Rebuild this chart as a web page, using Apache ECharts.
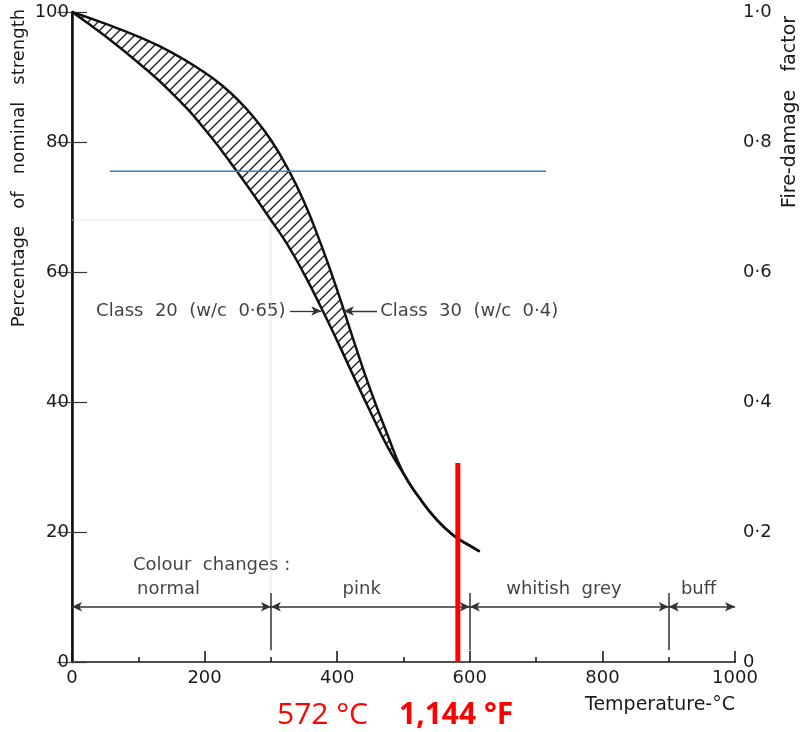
<!DOCTYPE html>
<html>
<head>
<meta charset="utf-8">
<script src="https://cdn.jsdelivr.net/npm/echarts@6/dist/echarts.min.js"></script>
<style>
  html, body { margin: 0; padding: 0; background: #fff; }
  #main { width: 800px; height: 732px; }
</style>
</head>
<body>
<div id="main"></div>
<script>
// Class 30 (w/c 0.4) - upper curve
var temp30 = [0, 50, 100, 150, 200, 225, 250, 275, 300, 325, 350, 375, 400, 425, 450, 475, 500, 525, 550, 575, 600, 615];
var str30 = [100, 98.2, 96.2, 93.8, 90.7, 88.8, 86.5, 83.7, 80.3, 76.0, 70.8, 64.4, 57.2, 49.4, 41.9, 35.2, 29.0, 25.1, 21.9, 19.5, 17.9, 17.0];
// Class 20 (w/c 0.65) - lower curve
var temp20 = [0, 50, 100, 150, 200, 250, 300, 325, 350, 375, 400, 425, 450, 475, 500, 525, 550, 575, 600, 615];
var str20 = [100, 96.3, 92.2, 87.6, 82.0, 75.3, 68.0, 64.2, 59.7, 54.7, 49.4, 43.9, 38.5, 33.3, 29.0, 25.1, 21.9, 19.5, 17.9, 17.0];

// blue reference line
var blueLevel = 75.5;
var blueFrom = 57;
var blueTo = 715;

// red marker
var redTemp = 582;
var redTop = 30.6;

// colour change zones
var zoneBounds = [0, 300, 600, 900, 1000];
var zoneNames = ['normal', 'pink', 'whitish  grey', 'buff'];
var zoneLabelX = [98, 437, 742, 945];
var zoneArrowY = 8.5;

var FONT = 'DejaVu Sans';

function pairs(xs, ys) {
  return xs.map(function (x, i) { return [x, ys[i]]; });
}

// hatch pattern
var hatch = document.createElement('canvas');
hatch.width = 10;
hatch.height = 10;
var hc = hatch.getContext('2d');
hc.strokeStyle = '#1a1a1a';
hc.lineWidth = 1.3;
hc.beginPath();
hc.moveTo(0, 10); hc.lineTo(10, 0);
hc.moveTo(-2, 2); hc.lineTo(2, -2);
hc.moveTo(8, 12); hc.lineTo(12, 8);
hc.stroke();

var myChart = echarts.init(document.getElementById('main'));

var zoneArrows = [];
var zoneDividers = [];
for (var i = 0; i < zoneNames.length; i++) {
  zoneArrows.push([{ coord: [zoneBounds[i], zoneArrowY] }, { coord: [zoneBounds[i + 1], zoneArrowY] }]);
}
[300, 600, 900].forEach(function (b) {
  zoneDividers.push([{ coord: [b, 10.6] }, { coord: [b, 1.8] }]);
});

var option = {
  animation: false,
  textStyle: { fontFamily: FONT },
  grid: { left: 72, right: 65, top: 12, bottom: 70 },
  xAxis: [
    {
      type: 'value', min: 0, max: 1000, interval: 200,
      axisLine: { lineStyle: { color: '#111', width: 2 } },
      axisTick: { inside: true, length: 11, lineStyle: { color: '#111', width: 1.5 } },
      minorTick: { show: true, splitNumber: 2, length: 5, lineStyle: { color: '#111', width: 1.5 } },
      axisLabel: {
        color: '#1a1a1a', fontSize: 18, margin: 7, fontFamily: FONT,
        formatter: function (v) { return String(v); }
      },
      splitLine: { show: false }
    },
    {
      type: 'value', min: 0, max: 1000, position: 'top',
      axisLine: { show: true, lineStyle: { color: '#666', width: 1.5 } },
      axisTick: { show: false }, axisLabel: { show: false }, splitLine: { show: false }
    }
  ],
  yAxis: [
    {
      type: 'value', min: 0, max: 100, interval: 20,
      axisLine: { show: true, lineStyle: { color: '#111', width: 2.5 } },
      axisTick: { show: true, inside: true, length: 15, lineStyle: { color: '#333', width: 1.2 } },
      axisLabel: { color: '#1a1a1a', fontSize: 18, margin: 3, fontFamily: FONT },
      splitLine: { show: false }
    },
    {
      type: 'value', min: 0, max: 1, interval: 0.2, position: 'right',
      axisLine: { show: true, lineStyle: { color: '#111', width: 1.5 } },
      axisTick: { show: true, inside: true, length: 15, lineStyle: { color: '#555', width: 1.2 } },
      axisLabel: {
        color: '#1a1a1a', fontSize: 18, margin: 8, fontFamily: FONT,
        formatter: function (v) { return v === 0 ? '0' : v.toFixed(1).replace('.', '·'); }
      },
      splitLine: { show: false }
    }
  ],
  graphic: [
    {
      type: 'text', x: 19, y: 168, rotation: Math.PI / 2,
      style: { text: 'Percentage   of   nominal   strength', fontSize: 18, fontFamily: FONT, fill: '#1a1a1a', align: 'center', verticalAlign: 'middle' }
    },
    {
      type: 'text', x: 790, y: 112, rotation: Math.PI / 2,
      style: { text: 'Fire-damage   factor', fontSize: 19, fontFamily: FONT, fill: '#1a1a1a', align: 'center', verticalAlign: 'middle' }
    },
    {
      type: 'text', x: 660, y: 705,
      style: { text: 'Temperature-°C', fontSize: 19, fontFamily: FONT, fill: '#1a1a1a', align: 'center', verticalAlign: 'middle' }
    },
    {
      type: 'text', x: 277, y: 715,
      style: { text: '572 °C', fontSize: 30, fontFamily: 'Open Sans', fill: '#ff0000', align: 'left', verticalAlign: 'middle' }
    },
    {
      type: 'text', x: 399, y: 715,
      style: { text: '1,144 °F', fontSize: 30, fontWeight: 'bold', fontFamily: 'Open Sans', fill: '#ff0000', align: 'left', verticalAlign: 'middle' }
    }
  ],
  series: [
    {
      // faint guide lines
      type: 'line', data: [[0, 68], [300, 68], [300, 10.6]],
      symbol: 'none', silent: true,
      lineStyle: { color: '#d0d0d0', width: 1, type: 'dotted' }
    },
    {
      type: 'custom',
      data: [[0, 0]],
      silent: true,
      renderItem: function (params, api) {
        var pts = [];
        for (var i = 0; i < temp30.length; i++) pts.push(api.coord([temp30[i], str30[i]]));
        for (var j = temp20.length - 1; j >= 0; j--) pts.push(api.coord([temp20[j], str20[j]]));
        return {
          type: 'polygon',
          shape: { points: pts },
          style: { fill: { image: hatch, repeat: 'repeat' }, stroke: null }
        };
      }
    },
    {
      name: 'Class 30', type: 'line', data: pairs(temp30, str30),
      smooth: 0.5, symbol: 'none',
      lineStyle: { color: '#111', width: 2.5 }
    },
    {
      name: 'Class 20', type: 'line', data: pairs(temp20, str20),
      smooth: 0.5, symbol: 'none',
      lineStyle: { color: '#111', width: 2.5 }
    },
    {
      type: 'line', data: [[blueFrom, blueLevel], [blueTo, blueLevel]],
      symbol: 'none', lineStyle: { color: '#3f7cc6', width: 1.5 }
    },
    {
      type: 'line', data: [[redTemp, 0], [redTemp, redTop]],
      symbol: 'none', z: 5, lineStyle: { color: '#ff0000', width: 5 }
    },
    {
      type: 'scatter', symbolSize: 0, silent: true,
      data: [
        { name: 'Colour  changes :', value: [92, 14.9], label: { align: 'left' } },
        { name: zoneNames[0], value: [zoneLabelX[0], 11.2], label: { align: 'left' } },
        { name: zoneNames[1], value: [zoneLabelX[1], 11.2] },
        { name: zoneNames[2], value: [zoneLabelX[2], 11.2] },
        { name: zoneNames[3], value: [zoneLabelX[3], 11.2] }
      ],
      label: { show: true, position: 'inside', formatter: '{b}', color: '#111', fontSize: 18, fontFamily: FONT },
      markLine: {
        silent: true,
        symbol: ['arrow', 'arrow'], symbolSize: [7, 10],
        lineStyle: { color: '#333', width: 1.5, type: 'solid' },
        label: { show: false },
        data: zoneArrows
      }
    },
    {
      type: 'scatter', symbolSize: 0, silent: true,
      data: [
        { name: 'Class  20  (w/c  0·65)', value: [322, 54], label: { position: 'left', distance: 0 } },
        { name: 'Class  30  (w/c  0·4)', value: [465, 54], label: { position: 'right', distance: 0 } }
      ],
      label: { show: true, color: '#111', fontSize: 18, fontFamily: FONT, formatter: '{b}' },
      markLine: {
        silent: true,
        symbol: ['none', 'arrow'], symbolSize: [7, 10],
        lineStyle: { color: '#333', width: 1.3, type: 'solid' },
        label: { show: false },
        data: [
          [{ coord: [329, 54] }, { coord: [376, 54] }],
          [{ coord: [460, 54] }, { coord: [410, 54] }]
        ]
      }
    },
    {
      type: 'line', data: [], symbol: 'none',
      markLine: {
        silent: true, symbol: ['none', 'none'],
        lineStyle: { color: '#333', width: 1.5, type: 'solid' },
        label: { show: false },
        data: zoneDividers
      }
    }
  ]
};

myChart.setOption(option);
</script>
</body>
</html>
